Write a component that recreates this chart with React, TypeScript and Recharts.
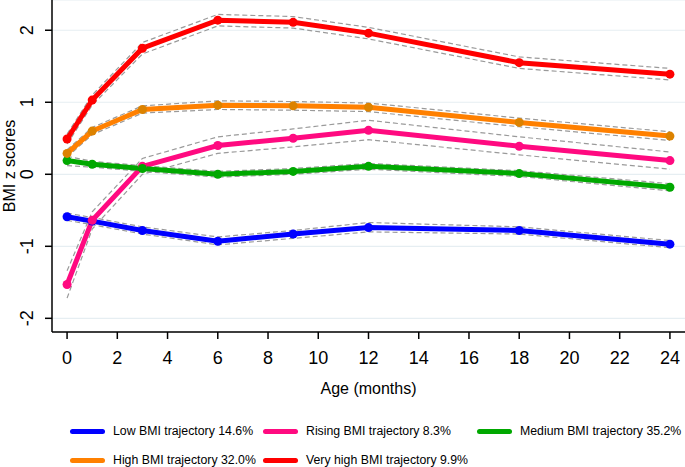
import { LineChart, Line, XAxis, YAxis, CartesianGrid } from "recharts";

const AGES = [0, 1, 3, 6, 9, 12, 18, 24];
const X_TICKS = [0, 2, 4, 6, 8, 10, 12, 14, 16, 18, 20, 22, 24];
const Y_TICKS = [-2, -1, 0, 1, 2];

const LOW = [-0.59, -0.65, -0.78, -0.93, -0.83, -0.74, -0.78, -0.97];
const LOW_UP = [-0.54, -0.6, -0.73, -0.87, -0.78, -0.67, -0.73, -0.92];
const LOW_LO = [-0.64, -0.7, -0.83, -0.98, -0.89, -0.8, -0.83, -1.02];

const RISING = [-1.53, -0.64, 0.11, 0.4, 0.5, 0.61, 0.39, 0.19];
const RISING_UP = [-1.34, -0.52, 0.22, 0.52, 0.63, 0.75, 0.52, 0.31];
const RISING_LO = [-1.72, -0.76, 0.0, 0.29, 0.38, 0.48, 0.27, 0.07];

const MEDIUM = [0.19, 0.14, 0.08, 0.0, 0.04, 0.11, 0.01, -0.18];
const MEDIUM_UP = [0.25, 0.18, 0.12, 0.04, 0.08, 0.15, 0.05, -0.13];
const MEDIUM_LO = [0.12, 0.1, 0.04, -0.04, 0.0, 0.07, -0.03, -0.23];

const HIGH = [0.29, 0.6, 0.9, 0.96, 0.95, 0.93, 0.72, 0.53];
const HIGH_UP = [0.34, 0.65, 0.95, 1.02, 1.01, 0.99, 0.78, 0.59];
const HIGH_LO = [0.24, 0.55, 0.85, 0.9, 0.89, 0.87, 0.66, 0.47];

const VHIGH = [0.49, 1.03, 1.75, 2.14, 2.11, 1.96, 1.55, 1.39];
const VHIGH_UP = [0.56, 1.1, 1.83, 2.22, 2.19, 2.04, 1.63, 1.47];
const VHIGH_LO = [0.42, 0.96, 1.67, 2.06, 2.03, 1.88, 1.47, 1.31];

const SERIES = [
    { key: "low", name: "Low BMI trajectory 14.6%", color: "#0000ff", dot: "#0000ff", values: LOW, up: LOW_UP, lo: LOW_LO },
    { key: "rising", name: "Rising BMI trajectory 8.3%", color: "#ff0a80", dot: "#ff0a80", values: RISING, up: RISING_UP, lo: RISING_LO },
    { key: "medium", name: "Medium BMI trajectory 35.2%", color: "#00a800", dot: "#00a800", values: MEDIUM, up: MEDIUM_UP, lo: MEDIUM_LO },
    { key: "high", name: "High BMI trajectory 32.0%", color: "#ff8000", dot: "#dc8200", values: HIGH, up: HIGH_UP, lo: HIGH_LO },
    { key: "vhigh", name: "Very high BMI trajectory 9.9%", color: "#ff0000", dot: "#ff0000", values: VHIGH, up: VHIGH_UP, lo: VHIGH_LO },
];

const data = AGES.map((age, i) => {
    const row: Record<string, number> = { age };
    SERIES.forEach(s => {
        row[s.key] = s.values[i];
        row[s.key + "Up"] = s.up[i];
        row[s.key + "Lo"] = s.lo[i];
    });
    return row;
});

const FONT = "'Liberation Sans', Arial, sans-serif";

// Stata style: y tick labels turned on their side
const YTick = ({ x, y, payload }: any) => (
    <text
        x={x + 4}
        y={y}
        transform={`rotate(-90, ${x + 4}, ${y})`}
        textAnchor="middle"
        fontSize={18}
        fontFamily={FONT}
        fill="#000"
    >
        {payload.value}
    </text>
);

const YLabel = ({ viewBox }: any) => {
    const cy = viewBox.y + viewBox.height / 2;
    return (
        <text
            x={15}
            y={cy}
            transform={`rotate(-90, 15, ${cy})`}
            textAnchor="middle"
            fontSize={16}
            fontFamily={FONT}
            fill="#000"
        >
            BMI z scores
        </text>
    );
};

const LEGEND_POS = [
    { left: 70, top: 431 },
    { left: 263, top: 431 },
    { left: 477, top: 431 },
    { left: 70, top: 460 },
    { left: 263, top: 460 },
];

export default function App() {
    return (
        <div style={{ position: "absolute", left: 0, top: 0, width: 685, height: 467, background: "#fff" }}>
            <LineChart
                width={685}
                height={400}
                data={data}
                margin={{ top: 0, right: 0, bottom: 0, left: 0 }}
            >
                <CartesianGrid horizontal vertical={false} stroke="#e6eef2" strokeWidth={1.2} />
                <XAxis
                    dataKey="age"
                    type="number"
                    domain={[-0.6, 24.6]}
                    ticks={X_TICKS}
                    allowDataOverflow
                    height={68}
                    tickSize={7}
                    tickMargin={12}
                    stroke="#000"
                    strokeWidth={1.5}
                    tick={{ fontSize: 18, fontFamily: FONT, fill: "#000" }}
                    label={{
                        value: "Age (months)",
                        position: "insideBottom",
                        offset: 6,
                        fontSize: 16,
                        fontFamily: FONT,
                        fill: "#000",
                    }}
                />
                <YAxis
                    type="number"
                    domain={[-2.19, 2.42]}
                    ticks={Y_TICKS}
                    allowDataOverflow
                    width={52}
                    tickSize={7}
                    tickMargin={16}
                    stroke="#000"
                    strokeWidth={1.5}
                    tick={<YTick />}
                    label={<YLabel />}
                />
                {SERIES.map(s => (
                    <Line
                        key={s.key + "Up"}
                        dataKey={s.key + "Up"}
                        stroke="#9a9a9a"
                        strokeWidth={1.2}
                        strokeDasharray="5 3"
                        dot={false}
                        isAnimationActive={false}
                    />
                ))}
                {SERIES.map(s => (
                    <Line
                        key={s.key + "Lo"}
                        dataKey={s.key + "Lo"}
                        stroke="#9a9a9a"
                        strokeWidth={1.2}
                        strokeDasharray="5 3"
                        dot={false}
                        isAnimationActive={false}
                    />
                ))}
                {SERIES.map(s => (
                    <Line
                        key={s.key}
                        dataKey={s.key}
                        stroke={s.color}
                        strokeWidth={5}
                        dot={{ r: 4.5, fill: s.dot, stroke: "none" }}
                        isAnimationActive={false}
                    />
                ))}
            </LineChart>
            {SERIES.map((s, i) => (
                <div
                    key={s.key}
                    style={{
                        position: "absolute",
                        left: LEGEND_POS[i].left,
                        top: LEGEND_POS[i].top - 9,
                        height: 18,
                        display: "flex",
                        alignItems: "center",
                        fontFamily: FONT,
                        fontSize: 12.3,
                        whiteSpace: "nowrap",
                        color: "#000",
                    }}
                >
                    <span
                        style={{
                            display: "inline-block",
                            width: 35,
                            height: 5,
                            borderRadius: 3,
                            background: s.color,
                            marginRight: 8,
                        }}
                    />
                    {s.name}
                </div>
            ))}
        </div>
    );
}
